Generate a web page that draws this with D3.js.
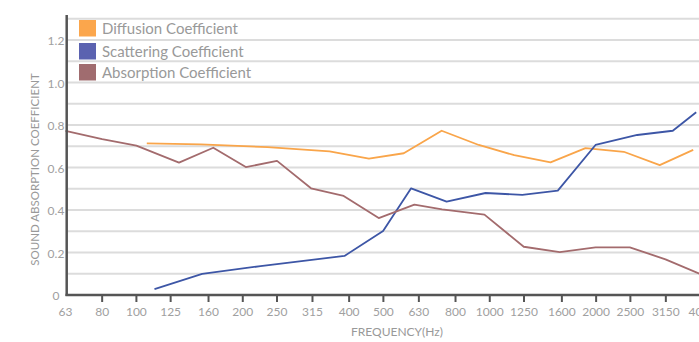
<!DOCTYPE html>
<html>
<head>
<meta charset="utf-8">
<script src="https://cdn.jsdelivr.net/npm/d3@7"></script>
<style>
  html, body { margin: 0; padding: 0; background: #fff; }
  svg { display: block; font-family: "Lato", "Open Sans", sans-serif; }
</style>
</head>
<body>
<svg id="chart" width="699" height="342"></svg>
<script>
// Third-octave band labels along the frequency axis
const bandLabels = ["63","80","100","125","160","200","250","315","400","500","630","800","1000","1250","1600","2000","2500","3150","4000"];
const yTicks = [0, 0.2, 0.4, 0.6, 0.8, 1.0, 1.2];
const yGrid = [0.1,0.2,0.3,0.4,0.5,0.6,0.7,0.8,0.9,1.0,1.1,1.2,1.3];

// Diffusion coefficient: frequency (Hz) and value
const diffusionFreq  = [107, 152, 235, 352, 455, 571, 731, 931, 1173, 1486, 1866, 2395, 3027, 3765];
const diffusionValue = [0.714, 0.709, 0.696, 0.676, 0.642, 0.667, 0.773, 0.706, 0.658, 0.624, 0.691, 0.674, 0.611, 0.683];

// Scattering coefficient
const scatteringFreq  = [112.5, 153.5, 224.5, 388, 499, 599, 755, 973, 1236, 1558, 1992, 2614, 3296, 3839];
const scatteringValue = [0.028, 0.099, 0.136, 0.184, 0.301, 0.502, 0.439, 0.480, 0.471, 0.491, 0.706, 0.753, 0.773, 0.860];

// Absorption coefficient
const absorptionFreq  = [63, 80, 100, 132, 165, 204, 250, 312, 386, 485, 612, 733, 966, 1248, 1578, 1992, 2491, 3143, 4000];
const absorptionValue = [0.772, 0.733, 0.703, 0.623, 0.693, 0.602, 0.631, 0.502, 0.466, 0.362, 0.425, 0.403, 0.378, 0.227, 0.202, 0.224, 0.224, 0.168, 0.094];

const seriesNames  = ["Diffusion Coefficient", "Scattering Coefficient", "Absorption Coefficient"];
const lineColors   = ["#F9A54A", "#3D56A6", "#A36B6D"];
const legendColors = ["#FBA64C", "#5B62B0", "#A06C6F"];

const svg = d3.select("#chart");
const W = 699;

const x = d3.scaleLog().domain([63, 4000]).range([65.5, 702.5]);
const y = d3.scaleLinear().domain([0, 1.3]).range([295, 18.75]);

// horizontal gridlines
svg.append("g").selectAll("line").data(yGrid).join("line")
  .attr("x1", 67).attr("x2", W)
  .attr("y1", d => y(d)).attr("y2", d => y(d))
  .attr("stroke", "#dcdcdc").attr("stroke-width", 2);

// y tick labels
svg.append("g").selectAll("text").data(yTicks).join("text")
  .attr("x", 56).attr("y", d => y(d) + 1)
  .attr("dy", "0.35em")
  .attr("text-anchor", "middle")
  .attr("font-size", 12).attr("fill", "#a0a0a0")
  .text(d => d === 0 ? "0" : d.toFixed(1));

// x axis ticks and labels
const xTickG = svg.append("g");
xTickG.selectAll("line").data(bandLabels.slice(1)).join("line")
  .attr("x1", d => x(+d)).attr("x2", d => x(+d))
  .attr("y1", 295).attr("y2", 302)
  .attr("stroke", "#555").attr("stroke-width", 2);
xTickG.selectAll("text").data(bandLabels).join("text")
  .attr("x", d => x(+d)).attr("y", 316)
  .attr("text-anchor", "middle")
  .attr("font-size", 12).attr("fill", "#a0a0a0")
  .text(d => d);

// data lines
const line = d3.line().x(d => x(d[0])).y(d => y(d[1]));
const series = [
  d3.zip(diffusionFreq, diffusionValue),
  d3.zip(scatteringFreq, scatteringValue),
  d3.zip(absorptionFreq, absorptionValue)
];
svg.append("g").selectAll("path").data(series).join("path")
  .attr("d", line)
  .attr("fill", "none")
  .attr("stroke", (d, i) => lineColors[i])
  .attr("stroke-width", 1.8)
  .attr("stroke-linejoin", "round");

// axis lines
svg.append("line").attr("x1", 66.7).attr("x2", 66.7).attr("y1", 15).attr("y2", 296)
  .attr("stroke", "#555").attr("stroke-width", 2.5);
svg.append("line").attr("x1", 65.5).attr("x2", W).attr("y1", 295).attr("y2", 295)
  .attr("stroke", "#555").attr("stroke-width", 2.5);

// axis titles
svg.append("text")
  .attr("transform", "translate(39,169.5) rotate(-90)")
  .attr("text-anchor", "middle")
  .attr("font-size", 11.5).attr("fill", "#999")
  .text("SOUND ABSORPTION COEFFICIENT");
svg.append("text")
  .attr("x", 351).attr("y", 336)
  .attr("font-size", 12).attr("fill", "#999")
  .text("FREQUENCY(Hz)");

// legend
const legendY = [20, 43, 64];
const lg = svg.append("g").selectAll("g").data(seriesNames).join("g")
  .attr("transform", (d, i) => `translate(79,${legendY[i]})`);
lg.append("rect").attr("width", 17).attr("height", 16.5)
  .attr("fill", (d, i) => legendColors[i]);
lg.append("text").attr("x", 23).attr("y", 13.5)
  .attr("font-size", 15).attr("fill", "#999")
  .text(d => d);
</script>
</body>
</html>
